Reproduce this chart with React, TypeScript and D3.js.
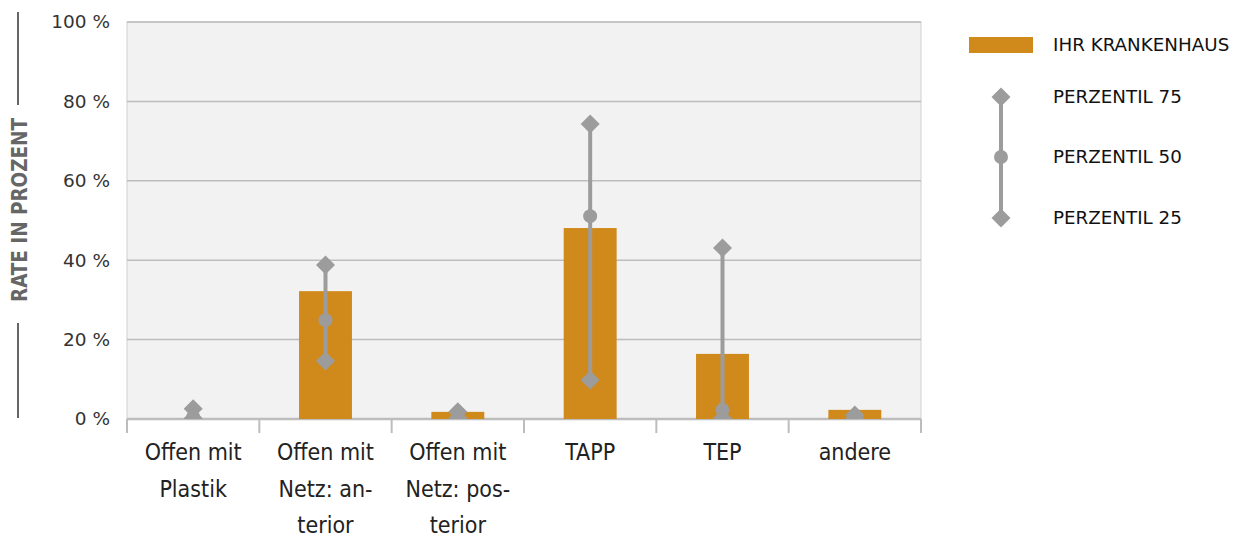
import React from 'react';
import * as d3 from 'd3';

const categories = [
  ['Offen mit', 'Plastik'],
  ['Offen mit', 'Netz: an-', 'terior'],
  ['Offen mit', 'Netz: pos-', 'terior'],
  ['TAPP'],
  ['TEP'],
  ['andere'],
];
const hospital = [0, 32.2, 1.8, 48.1, 16.4, 2.3];
const p75 = [2.6, 38.8, 1.8, 74.3, 43.1, 1.0];
const p50 = [0.5, 24.9, 0.5, 51.1, 2.3, 0.5];
const p25 = [0.2, 14.6, 0.2, 9.8, 0.2, 0.2];
const yTicks = [0, 20, 40, 60, 80, 100];

const width = 1239;
const height = 538;
const margin = { top: 22, right: 318, bottom: 119, left: 127 };

const ORANGE = '#d08a1b';
const GREY = '#9c9c9c';
const GRID = '#bdbdbd';
const FONT = '"DejaVu Sans Condensed", "Open Sans", sans-serif';

function diamond(cx: number, cy: number, r: number) {
  return `M${cx},${cy - r}L${cx + r},${cy}L${cx},${cy + r}L${cx - r},${cy}Z`;
}

export default function App() {
  const x = d3.scaleBand<number>()
    .domain(d3.range(categories.length))
    .range([margin.left, width - margin.right])
    .paddingInner(0)
    .paddingOuter(0);
  const y = d3.scaleLinear()
    .domain([0, 100])
    .range([height - margin.bottom, margin.top]);

  const bw = x.bandwidth() * 0.4;
  const boundaries = d3.range(categories.length + 1).map(i => margin.left + i * x.bandwidth());

  return (
    <div style={{ position: 'absolute', left: 0, top: 0 }}>
      <svg width={width} height={height} style={{ display: 'block', background: '#fff' }}>
        {/* plot background */}
        <rect x={margin.left} y={margin.top} width={width - margin.left - margin.right}
          height={y(0) - margin.top} fill="#f2f2f2" stroke="#d0d0d0" strokeWidth={1} />

        {/* gridlines */}
        {yTicks.map(t => (
          <line key={t} x1={margin.left} x2={width - margin.right} y1={y(t)} y2={y(t)}
            stroke={GRID} strokeWidth={t === 0 ? 2.5 : 1.5} />
        ))}

        {/* x ticks */}
        {boundaries.map((b, i) => (
          <line key={i} x1={b} x2={b} y1={y(0)} y2={y(0) + 14} stroke={GRID} strokeWidth={2} />
        ))}

        {/* y tick labels */}
        {yTicks.map(t => (
          <text key={t} x={110} y={y(t)} dy="0.35em" textAnchor="end"
            fontFamily="'DejaVu Sans', sans-serif" fontSize={18.5} fill="#333">{t} %</text>
        ))}

        {/* y axis title */}
        <line x1={18} x2={18} y1={12} y2={105} stroke="#666" strokeWidth={2} />
        <line x1={18} x2={18} y1={323} y2={418} stroke="#666" strokeWidth={2} />
        <text transform={`translate(27,${(118 + 302) / 2}) rotate(-90)`} textAnchor="middle"
          fontFamily={FONT} fontWeight={600} fontSize={21} fill="#666"
          textLength={184} lengthAdjust="spacingAndGlyphs">RATE IN PROZENT</text>

        {/* bars */}
        {hospital.map((v, i) => v > 0 && (
          <rect key={i} x={x(i)! + x.bandwidth() / 2 - bw / 2} y={y(v)} width={bw}
            height={y(0) - y(v)} fill={ORANGE} />
        ))}

        <defs>
          <clipPath id="plotclip">
            <rect x={margin.left} y={0} width={width - margin.left - margin.right} height={y(0)} />
          </clipPath>
        </defs>

        {/* percentile markers */}
        {categories.map((_, i) => {
          const cx = x(i)! + x.bandwidth() / 2;
          return (
            <g key={i} clipPath="url(#plotclip)">
              <line x1={cx} x2={cx} y1={y(p75[i])} y2={y(p25[i])} stroke={GREY} strokeWidth={4} />
              <path d={diamond(cx, y(p75[i]), 9.5)} fill={GREY} />
              <circle cx={cx} cy={y(p50[i])} r={7} fill={GREY} />
              <path d={diamond(cx, y(p25[i]), 9.5)} fill={GREY} />
            </g>
          );
        })}

        {/* category labels */}
        {categories.map((lines, i) => (
          <text key={i} x={x(i)! + x.bandwidth() / 2} textAnchor="middle"
            fontFamily={FONT} fontSize={23} fill="#222">
            {lines.map((l, j) => (
              <tspan key={j} x={x(i)! + x.bandwidth() / 2} y={460 + j * 36.5}>{l}</tspan>
            ))}
          </text>
        ))}

        {/* legend */}
        <rect x={969} y={37} width={64} height={16} fill={ORANGE} />
        <line x1={1001} x2={1001} y1={97} y2={218} stroke={GREY} strokeWidth={4} />
        <path d={diamond(1001, 97, 9.5)} fill={GREY} />
        <circle cx={1001} cy={157} r={7} fill={GREY} />
        <path d={diamond(1001, 218, 9.5)} fill={GREY} />
        {[
          ['IHR KRANKENHAUS', 45],
          ['PERZENTIL 75', 97],
          ['PERZENTIL 50', 157],
          ['PERZENTIL 25', 218],
        ].map(([t, yy]) => (
          <text key={t as string} x={1053} y={yy as number} dy="0.35em"
            fontFamily="'DejaVu Sans', sans-serif" fontSize={18.3} fill="#111">{t}</text>
        ))}
      </svg>
    </div>
  );
}
